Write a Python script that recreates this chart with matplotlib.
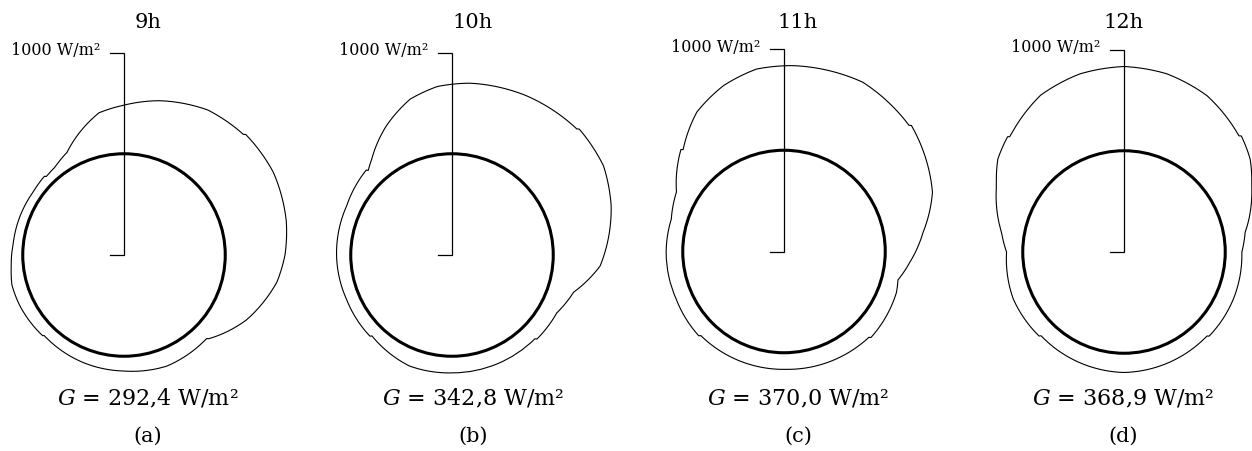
import numpy as np
import matplotlib
matplotlib.use("Agg")
import matplotlib.pyplot as plt
from matplotlib.path import Path
from matplotlib.patches import PathPatch

plt.rcParams['font.family'] = ['DejaVu Serif']
plt.rcParams['mathtext.fontset'] = 'dejavuserif'

# ---- data ----------------------------------------------------------------
HOURS = ['9h', '10h', '11h', '12h']
G_MEAN = ['292,4', '342,8', '370,0', '368,9']
LETTERS = ['(a)', '(b)', '(c)', '(d)']
TUBE_R = 500          # thick circle, same scale as the 1000 W/m2 bar
SCALE_REF = 1000

# outer curve, angle in degrees (0 = east, counter clockwise) and radius
ANG_A = [0, 12, 29, 44.7, 45.3, 60, 77, 90, 100, 110, 119, 128, 134.7, 135.3,
         145, 159, 174, 186, 195, 206, 224.7, 225.3, 249, 270, 291, 314.7,
         315.3, 332, 350]
RAD_A = [795, 819, 843, 846, 838, 827, 782, 740, 713, 643, 580, 552, 545, 553,
         546, 548, 550, 560, 573, 572, 566, 560, 568, 573, 588, 580,
         588, 684, 767]

ANG_B = [17, 30.5, 44.7, 45.3, 65, 84, 95, 105, 117, 130, 134.7, 135.3, 155,
         180.5, 203, 224.7, 225.3, 249, 270.6, 314.7, 315.3, 331, 343, 355.7]
RAD_B = [822, 868, 884, 876, 868, 853, 835, 797, 715, 617, 588, 596, 574,
         570, 565, 570, 562, 587, 582, 582, 590, 591, 628, 733]

ANG_C = [7.8, 21.7, 44.7, 45.3, 65, 87, 98.6, 110, 122, 134.7, 135.3, 151, 164,
         180.5, 204, 224.7, 225.3, 271, 314.7, 315.3, 340, 346, 355]
RAD_C = [693, 789, 885, 877, 922, 919, 911, 872, 812, 708, 716, 607, 579,
         582, 582, 592, 584, 582, 596, 604, 591, 580, 623]

ANG_D = [0, 9.2, 27.5, 36.4, 44.7, 45.3, 62, 76.5, 90, 104, 118, 134.7, 135.3,
         143.6, 152.5, 171, 180, 203, 224.7, 225.3, 270, 314.7, 315.3, 336.7]
RAD_D = [582, 606, 711, 774, 815, 807, 874, 905, 916, 906, 877, 801, 809,
         774, 710, 612, 580, 594, 590, 582, 595, 583, 591, 588]

CURVES = [(ANG_A, RAD_A), (ANG_B, RAD_B), (ANG_C, RAD_C), (ANG_D, RAD_D)]

# ---- layout (pixels) ------------------------------------------------------
W, H = 1252, 452
PX_PER_UNIT = 0.2025
RMAX = 1100
CENTERS = [(124, 256), (452, 256), (784, 252.5), (1124, 253)]
TEXT_X = [148, 473, 798, 1123]
TICK = 69             # length of the small bracket ticks, in radius units


def polar_curve(ax, theta, r, lw):
  # segments are drawn along the polar grid (spirals), not as chords
  path = Path(np.column_stack([theta, r]), _interpolation_steps=40)
  ax.add_patch(PathPatch(path, transform=ax.transData, fill=False,
                         edgecolor='black', linewidth=lw, clip_on=False,
                         joinstyle='round'))


def panel(fig, center, angles, radii):
  cx, cy = center
  rpx = RMAX * PX_PER_UNIT
  ax = fig.add_axes([(cx - rpx) / W, (H - cy - rpx) / H, 2 * rpx / W, 2 * rpx / H],
                    projection='polar')
  ax.set_rlim(0, RMAX)
  ax.axis('off')

  theta = np.deg2rad(np.append(angles, angles[0] + 360))
  r = np.append(radii, radii[0])
  polar_curve(ax, theta, r, 0.8)

  circ = np.deg2rad([0, 90, 180, 270, 360])
  polar_curve(ax, circ, np.full(5, TUBE_R), 2.2)

  # scale bar with its two ticks
  top_t = np.arctan2(SCALE_REF, -TICK)
  top_r = np.hypot(SCALE_REF, TICK)
  ax.plot([np.pi, np.pi, np.pi / 2, np.pi / 2, top_t], [TICK, 0, 0, SCALE_REF, top_r],
          color='black', linewidth=0.9, solid_joinstyle='miter', clip_on=False)
  ax.annotate('1000 W/m²', xy=(top_t, top_r), xytext=(-7, 2), textcoords='offset points',
              ha='right', va='center', fontsize=11.5)
  return ax


fig = plt.figure(figsize=(W / 100, H / 100), dpi=100)
for idx, (ang, rad) in enumerate(CURVES):
  panel(fig, CENTERS[idx], ang, rad)
  x = TEXT_X[idx] / W
  fig.text(x, 1 - 22 / H, HOURS[idx], ha='center', va='center', fontsize=15)
  fig.text(x, 1 - 399 / H, f'$G$ = {G_MEAN[idx]} W/m²', ha='center', va='center',
           fontsize=16)
  fig.text(x, 1 - 436 / H, LETTERS[idx], ha='center', va='center', fontsize=15)

fig.savefig('out.png', dpi=100, facecolor='white')
